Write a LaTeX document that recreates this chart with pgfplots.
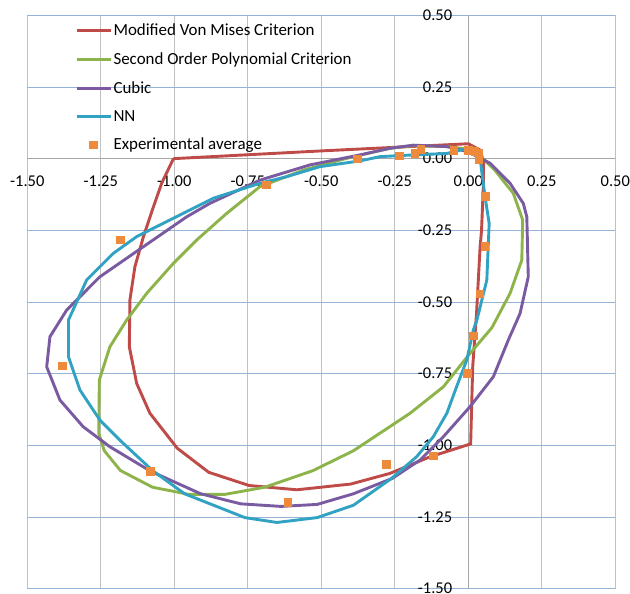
\documentclass[border=0pt]{standalone}
\usepackage{pgfplots}
\pgfplotsset{compat=1.18}
\usepackage{fontspec}
\setmainfont{Carlito}
\definecolor{cRed}{HTML}{BE4B48}
\definecolor{cGreen}{HTML}{8DB44A}
\definecolor{cPurple}{HTML}{7A5AA0}
\definecolor{cTeal}{HTML}{31A2C2}
\definecolor{cOrange}{HTML}{EE8A3C}
\definecolor{gridGray}{HTML}{C0C0C0}
\definecolor{gridBlue}{HTML}{95B3D7}
\definecolor{axGray}{HTML}{A6A6A6}
\pgfplotsset{
  lineleg/.style={legend image code/.code={\draw[##1] (0bp,0bp) -- (34bp,0bp);}},
  markleg/.style={legend image code/.code={\draw[##1] plot coordinates {(17bp,0bp)};}},
}
\begin{document}
\begin{tikzpicture}[font=\fontsize{16.5}{19}\selectfont]
\begin{axis}[
  scale only axis, width=588bp, height=573.4bp,
  xmin=-1.5, xmax=0.5, ymin=-1.5, ymax=0.5,
  enlargelimits=false,
  axis lines=middle,
  axis line style={draw=axGray, line width=0.9bp, -},
  hide obscured x ticks=false, hide obscured y ticks=false,
  xtick={-1.5,-1.25,-1,-0.75,-0.5,-0.25,0,0.25,0.5},
  ytick={-1.5,-1.25,-1,-0.75,-0.5,-0.25,0,0.25,0.5},
  major tick length=0pt,
  xmajorgrids, ymajorgrids,
  x grid style={draw=gridGray, line width=0.9bp},
  y grid style={draw=gridBlue, line width=0.9bp},
  /pgf/number format/assume math mode=true,
  /pgf/number format/fixed, /pgf/number format/fixed zerofill, /pgf/number format/precision=2,
  x tick label style={anchor=center, yshift=-23bp, inner sep=0pt},
  y tick label style={anchor=east, xshift=-16bp, inner sep=0pt},
  legend cell align=left,
  legend style={at={(axis cs:-1.338,0.470)}, anchor=north west, draw=none, fill=none,
    inner sep=0pt, row sep=15.5bp, font=\fontsize{17}{20}\selectfont,
    nodes={inner xsep=1.5bp, inner ysep=0pt}},
  every axis plot/.append style={line width=2.9bp},
]
\addplot[cRed, mark=none, lineleg] coordinates {
(-1.003,0.000) (-0.500,0.027) (0.000,0.052) (0.040,0.030) (0.052,-0.010) (0.051,-0.100) (0.045,-0.250) (0.040,-0.310) (0.028,-0.540) (0.015,-0.726) (0.008,-0.995) (-0.130,-1.040) (-0.267,-1.098) (-0.400,-1.135) (-0.583,-1.155) (-0.746,-1.140) (-0.883,-1.094) (-0.990,-1.010) (-1.083,-0.888) (-1.128,-0.784) (-1.153,-0.656) (-1.151,-0.493) (-1.134,-0.377) (-1.105,-0.272) (-1.071,-0.168) (-1.043,-0.086) (-1.003,0.000)
};
\addlegendentry{Modified Von Mises Criterion}
\addplot[cGreen, mark=none, lineleg] coordinates {
(0.020,0.030) (-0.070,0.042) (-0.190,0.045) (-0.267,0.036) (-0.414,0.001) (-0.561,-0.040) (-0.709,-0.098) (-0.822,-0.191) (-0.924,-0.284) (-1.003,-0.365) (-1.094,-0.470) (-1.162,-0.563) (-1.219,-0.656) (-1.255,-0.772) (-1.257,-0.958) (-1.238,-1.019) (-1.183,-1.088) (-1.074,-1.146) (-0.951,-1.171) (-0.828,-1.171) (-0.692,-1.146) (-0.528,-1.088) (-0.391,-1.019) (-0.335,-0.981) (-0.198,-0.888) (-0.085,-0.796) (0.006,-0.679) (0.080,-0.590) (0.142,-0.470) (0.182,-0.354) (0.185,-0.214) (0.153,-0.121) (0.090,-0.040) (0.020,0.030)
};
\addlegendentry{Second Order Polynomial Criterion}
\addplot[cPurple, mark=none, lineleg] coordinates {
(0.000,0.024) (0.074,-0.016) (0.142,-0.086) (0.187,-0.156) (0.199,-0.203) (0.204,-0.412) (0.176,-0.540) (0.136,-0.633) (0.085,-0.761) (0.006,-0.865) (-0.085,-0.970) (-0.164,-1.051) (-0.258,-1.115) (-0.391,-1.169) (-0.514,-1.206) (-0.637,-1.213) (-0.774,-1.204) (-0.910,-1.169) (-1.081,-1.090) (-1.219,-1.005) (-1.310,-0.935) (-1.389,-0.842) (-1.434,-0.726) (-1.423,-0.621) (-1.366,-0.528) (-1.253,-0.412) (-1.105,-0.307) (-0.958,-0.203) (-0.879,-0.156) (-0.709,-0.075) (-0.539,-0.022) (-0.369,0.013) (-0.267,0.036) (-0.187,0.047) (-0.073,0.042) (0.000,0.024)
};
\addlegendentry{Cubic}
\addplot[cTeal, mark=none, lineleg] coordinates {
(0.017,0.030) (-0.017,0.032) (-0.073,0.018) (-0.187,0.013) (-0.300,0.007) (-0.369,-0.008) (-0.505,-0.028) (-0.618,-0.063) (-0.709,-0.086) (-0.867,-0.138) (-1.003,-0.208) (-1.128,-0.272) (-1.207,-0.330) (-1.298,-0.423) (-1.360,-0.563) (-1.360,-0.691) (-1.321,-0.807) (-1.253,-0.912) (-1.183,-0.984) (-1.074,-1.088) (-0.965,-1.169) (-0.760,-1.252) (-0.651,-1.269) (-0.514,-1.252) (-0.391,-1.209) (-0.262,-1.116) (-0.176,-1.040) (-0.119,-0.970) (-0.073,-0.888) (-0.040,-0.796) (-0.005,-0.702) (0.017,-0.598) (0.030,-0.560) (0.063,-0.423) (0.071,-0.226) (0.057,-0.133) (0.045,-0.040) (0.040,0.007) (0.017,0.030)
};
\addlegendentry{NN}
\addplot[only marks, mark=square*, mark size=3.8bp, color=cOrange, mark options={draw=cOrange, fill=cOrange, line width=0pt}, markleg] coordinates {
(-0.686,-0.092) (-1.183,-0.284) (-1.381,-0.723) (-1.081,-1.091) (-0.613,-1.200) (-0.278,-1.066) (-0.119,-1.037) (-0.002,-0.749) (0.017,-0.619) (0.040,-0.472) (0.057,-0.307) (0.059,-0.133) (0.037,-0.002) (0.036,0.018) (0.023,0.024) (0.000,0.028) (-0.049,0.028) (-0.161,0.032) (-0.181,0.018) (-0.235,0.009) (-0.376,-0.001)
};
\addlegendentry{Experimental average}
\end{axis}
\pgfresetboundingbox
\path ([shift={(-27.3bp,-5.3bp)}]current axis.south west) rectangle ([shift={(14.7bp,15.3bp)}]current axis.north east);
\end{tikzpicture}
\end{document}
